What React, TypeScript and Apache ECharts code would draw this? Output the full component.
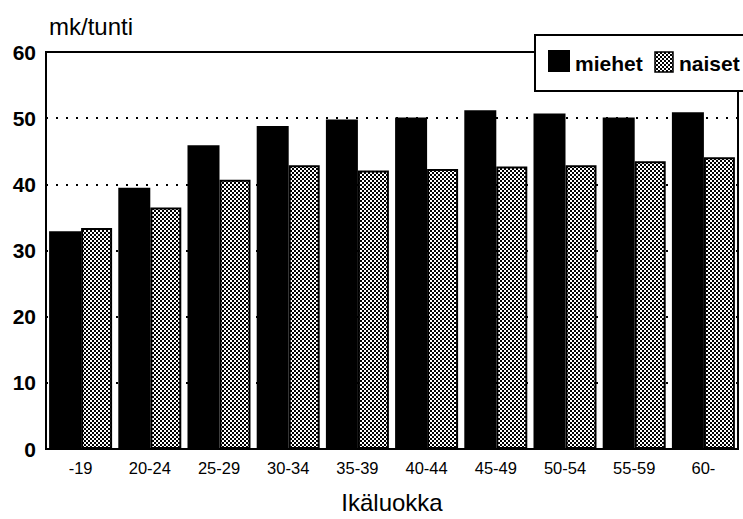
import React, { useEffect, useRef } from "react";
import * as echarts from "echarts";

const categories = ["-19", "20-24", "25-29", "30-34", "35-39", "40-44", "45-49", "50-54", "55-59", "60-"];
const miehet = [32.9, 39.5, 45.9, 48.8, 49.8, 50.1, 51.2, 50.7, 50.1, 50.9];
const naiset = [33.4, 36.5, 40.7, 42.9, 42.1, 42.3, 42.7, 42.9, 43.5, 44.1];
const yTicks = [0, 10, 20, 30, 40, 50, 60];
const legendNames = ["miehet", "naiset"];

const FONT = "'Liberation Sans', Arial, Helvetica, sans-serif";

function makePattern(): HTMLCanvasElement {
  const c = document.createElement("canvas");
  c.width = 4;
  c.height = 4;
  const ctx = c.getContext("2d")!;
  ctx.fillStyle = "#ffffff";
  ctx.fillRect(0, 0, 4, 4);
  ctx.fillStyle = "#000000";
  ctx.fillRect(0, 0, 2, 2);
  ctx.fillRect(2, 2, 2, 2);
  return c;
}

export default function App() {
  const ref = useRef<HTMLDivElement>(null);
  useEffect(() => {
    if (!ref.current) return;
    const chart = echarts.init(ref.current, undefined, { renderer: "svg" });
    const pattern = { image: makePattern(), repeat: "repeat" } as any;
    chart.setOption({
      animation: false,
      backgroundColor: "#ffffff",
      textStyle: { fontFamily: FONT, color: "#000" },
      title: {
        text: "mk/tunti",
        left: 44,
        top: 9,
        textStyle: { fontFamily: FONT, fontSize: 24, fontWeight: "normal", color: "#000" },
      },
      graphic: [
        {
          type: "group",
          z: 100,
          children: [
            {
              type: "rect",
              shape: { x: 535, y: 35, width: 230, height: 56 },
              style: { fill: "#ffffff", stroke: "#000", lineWidth: 2 },
              z: 100,
            },
            {
              type: "rect",
              shape: { x: 548, y: 50, width: 22, height: 22 },
              style: { fill: "#000" },
              z: 101,
            },
            {
              type: "text",
              x: 575,
              y: 63,
              style: {
                text: legendNames[0],
                fill: "#000",
                font: "bold 21px " + FONT,
                verticalAlign: "middle",
                align: "left",
              },
              z: 101,
            },
            {
              type: "rect",
              shape: { x: 655, y: 52, width: 18, height: 20 },
              style: { fill: pattern, stroke: "#000", lineWidth: 1.5 },
              z: 101,
            },
            {
              type: "text",
              x: 679,
              y: 63,
              style: {
                text: legendNames[1],
                fill: "#000",
                font: "bold 21px " + FONT,
                verticalAlign: "middle",
                align: "left",
              },
              z: 101,
            },
          ],
        },
      ],
      grid: {
        left: 46,
        right: 5,
        top: 52,
        bottom: 68,
        show: true,
        borderColor: "#000",
        borderWidth: 2,
        backgroundColor: "transparent",
      },
      xAxis: {
        type: "category",
        data: categories,
        name: "Ikäluokka",
        nameLocation: "middle",
        nameGap: 41,
        nameTextStyle: { fontFamily: FONT, fontSize: 24, color: "#000" },
        axisLine: { lineStyle: { color: "#000", width: 2 } },
        axisTick: { show: false },
        axisLabel: { fontFamily: FONT, fontSize: 16.5, color: "#000", margin: 10 },
      },
      yAxis: {
        type: "value",
        min: yTicks[0],
        max: yTicks[yTicks.length - 1],
        interval: 10,
        axisLine: { show: true, lineStyle: { color: "#000", width: 2 } },
        axisTick: { show: false },
        axisLabel: { fontFamily: FONT, fontSize: 21, fontWeight: "bold", color: "#000", margin: 10 },
        splitLine: { show: true, lineStyle: { color: "#000", width: 2, type: [2, 8] } },
      },
      series: [
        {
          name: legendNames[0],
          type: "bar",
          data: miehet,
          barWidth: 32,
          barGap: "0%",
          itemStyle: { color: "#000" },
        },
        {
          name: legendNames[1],
          type: "bar",
          data: naiset,
          barWidth: 31,
          itemStyle: { color: pattern, borderColor: "#000", borderWidth: 2 },
        },
      ],
    });
    return () => chart.dispose();
  }, []);
  return (
    <div
      ref={ref}
      style={{ position: "fixed", left: 0, top: 0, width: 743, height: 519 }}
    />
  );
}
